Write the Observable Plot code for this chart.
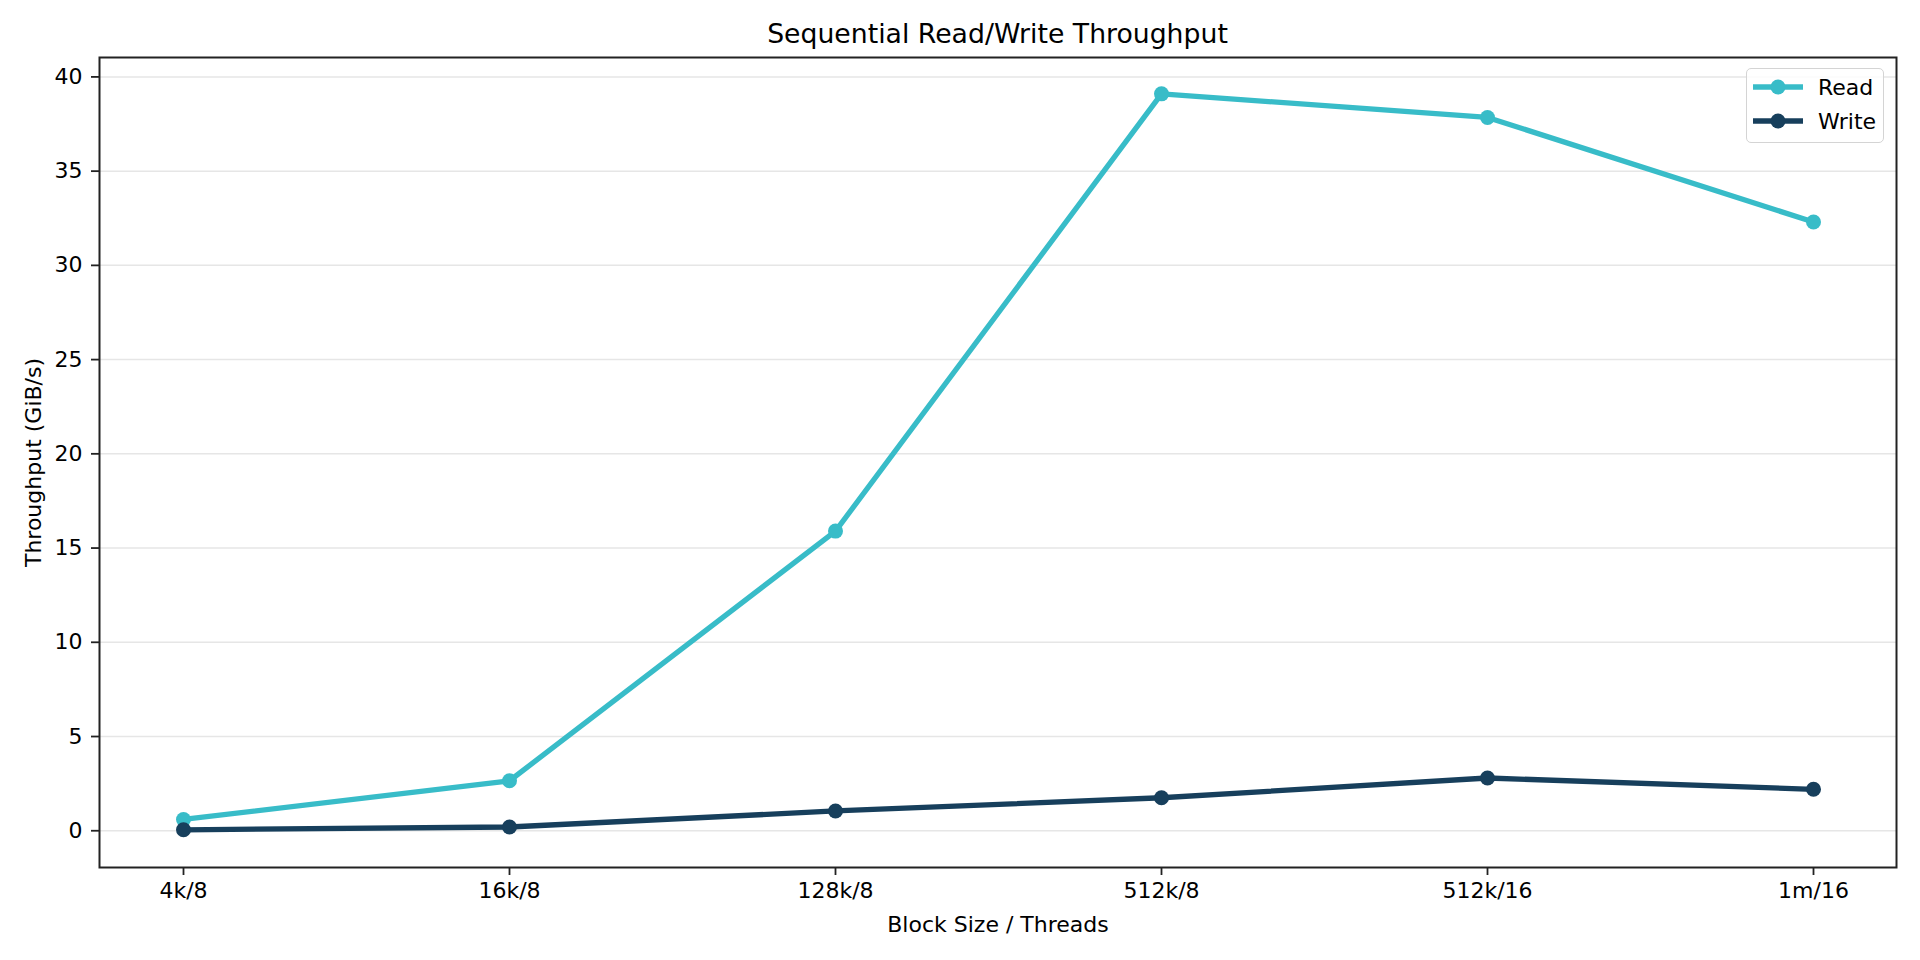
<!DOCTYPE html>
<html>
<head>
<meta charset="utf-8">
<script src="https://cdn.jsdelivr.net/npm/d3@7"></script>
<script src="https://cdn.jsdelivr.net/npm/@observablehq/plot@0.6"></script>
<style>
  html, body { margin: 0; padding: 0; background: #fff; }
  body { width: 1920px; height: 960px; overflow: hidden; font-family: "DejaVu Sans", sans-serif; }
  #wrap { position: relative; width: 1920px; height: 960px; }
  #title { position: absolute; left: 99px; width: 1797px; top: 18px; text-align: center; font-size: 26.7px; color: #000; line-height: 32px; }
  #chart { position: absolute; left: 0; top: 50px; }
  #legend { position: absolute; left: 1746px; top: 68px; width: 136px; height: 73px; border: 1.5px solid #d4d4d4; border-radius: 5px; background: rgba(255,255,255,0.85); }
  .entry { position: absolute; left: 0; height: 30px; display: flex; align-items: center; font-size: 22px; color: #000; }
  .entry svg { margin-left: 5px; margin-right: 14px; }
</style>
</head>
<body>
<div id="wrap">
  <div id="title">Sequential Read/Write Throughput</div>
  <div id="chart"></div>
  <div id="legend"></div>
</div>
<script>
const categories = ["4k/8", "16k/8", "128k/8", "512k/8", "512k/16", "1m/16"];
const readValues = [0.6, 2.65, 15.9, 39.1, 37.85, 32.3];
const writeValues = [0.05, 0.2, 1.05, 1.75, 2.8, 2.2];
const seriesNames = ["Read", "Write"];
const seriesColors = ["#38bcc8", "#173f5c"];
const yTicks = [0, 5, 10, 15, 20, 25, 30, 35, 40];

const readData = categories.map((c, i) => ({cat: c, value: readValues[i], series: "Read"}));
const writeData = categories.map((c, i) => ({cat: c, value: writeValues[i], series: "Write"}));

const font = "DejaVu Sans, sans-serif";
const plot = Plot.plot({
  width: 1920,
  height: 910,
  marginLeft: 99,
  marginRight: 24,
  marginTop: 7,
  marginBottom: 93,
  style: {fontFamily: font, fontSize: "22px", color: "#000", background: "transparent"},
  x: {type: "point", domain: categories, padding: 0.25, label: null},
  y: {domain: [-1.95, 41.03], label: null},
  color: {domain: seriesNames, range: seriesColors},
  marks: [
    Plot.gridY(yTicks, {stroke: "#e6e6e6", strokeOpacity: 1, strokeWidth: 1.5}),
    Plot.axisY({ticks: yTicks, tickSize: 8, tickPadding: 9, label: null, stroke: "#222", strokeWidth: 1.8, fontSize: 22}),
    Plot.axisX({tickSize: 8, tickPadding: 7, label: null, stroke: "#222", strokeWidth: 1.8, fontSize: 22}),
    Plot.line(readData, {x: "cat", y: "value", stroke: "series", strokeWidth: 5.3}),
    Plot.dot(readData, {x: "cat", y: "value", fill: "series", r: 7.5}),
    Plot.line(writeData, {x: "cat", y: "value", stroke: "series", strokeWidth: 5.3}),
    Plot.dot(writeData, {x: "cat", y: "value", fill: "series", r: 7.5}),
    Plot.frame({stroke: "#222", strokeWidth: 2}),
    Plot.text(["Throughput (GiB/s)"], {frameAnchor: "left", rotate: -90, dx: -66, textAnchor: "middle", lineAnchor: "middle", fontSize: 22, fill: "#000"}),
    Plot.text(["Block Size / Threads"], {frameAnchor: "bottom", dy: 57, textAnchor: "middle", lineAnchor: "middle", fontSize: 22, fill: "#000"})
  ]
});
document.getElementById("chart").appendChild(plot);

const legend = document.getElementById("legend");
seriesNames.forEach((name, i) => {
  const e = document.createElement("div");
  e.className = "entry";
  e.style.top = (3 + i * 34) + "px";
  e.innerHTML = `<svg width="52" height="20"><line x1="1" x2="51" y1="10" y2="10" stroke="${seriesColors[i]}" stroke-width="5.3"/><circle cx="26" cy="10" r="7.5" fill="${seriesColors[i]}"/></svg><span>${name}</span>`;
  legend.appendChild(e);
});
</script>
</body>
</html>
